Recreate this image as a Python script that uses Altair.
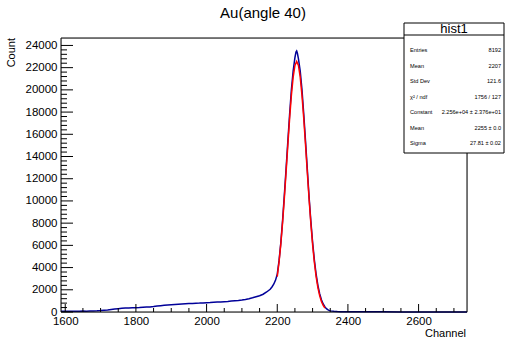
import altair as alt
import pandas as pd

# ---- data ----
hist_x = [1588, 1600, 1610, 1620, 1630, 1640, 1650, 1660, 1670, 1680, 1690, 1700, 1710, 1720,
          1730, 1740, 1750, 1760, 1770, 1780, 1790, 1800, 1810, 1820, 1830, 1840, 1850, 1860,
          1870, 1880, 1890, 1900, 1910, 1920, 1930, 1940, 1950, 1960, 1970, 1980, 1990, 2000,
          2010, 2020, 2030, 2040, 2050, 2060, 2070, 2080, 2090, 2100, 2110, 2120, 2130, 2140,
          2150, 2160, 2170, 2180, 2185, 2190, 2195, 2200, 2205, 2210, 2215, 2220, 2225, 2230,
          2235, 2240, 2245, 2250, 2253, 2255, 2257, 2260, 2265, 2270, 2275, 2280, 2285, 2290,
          2295, 2300, 2305, 2310, 2315, 2320, 2325, 2330, 2335, 2340, 2345, 2350, 2360, 2370,
          2380, 2400, 2450, 2500, 2550, 2600, 2650, 2700, 2737]
hist_y = [60, 70, 60, 70, 60, 70, 80, 70, 90, 100, 110, 130, 160, 190,
          230, 270, 300, 330, 350, 370, 380, 390, 400, 420, 440, 460, 490, 530,
          570, 610, 640, 660, 680, 700, 720, 740, 760, 770, 790, 800, 820, 840,
          850, 870, 890, 910, 930, 950, 980, 1010, 1040, 1080, 1130, 1200, 1280, 1370,
          1460, 1600, 1800, 2050, 2250, 2500, 2850, 3400, 4600, 6200, 8200, 10500, 12900, 15400,
          17800, 20000, 21700, 22900, 23400, 23500, 23300, 22800, 21700, 20000, 17800, 15400, 12900, 10400,
          8200, 6300, 4700, 3400, 2400, 1650, 1100, 720, 450, 280, 170, 100, 60, 40,
          30, 25, 20, 15, 10, 8, 5, 5, 3]

fit_x = [2200, 2205, 2210, 2215, 2220, 2225, 2230, 2235, 2240, 2245, 2250, 2255, 2260, 2265,
         2270, 2275, 2280, 2285, 2290, 2295, 2300, 2305, 2310, 2315, 2320, 2325, 2330, 2335]
fit_y = [3190, 4480, 6090, 8020, 10220, 12610, 15060, 17420, 19510, 21150, 22200, 22560, 22200, 21150,
         19510, 17420, 15060, 12610, 10220, 8020, 6090, 4480, 3190, 2200, 1470, 950, 594, 360]

x_labels = [1600, 1800, 2000, 2200, 2400, 2600]
x_minor = [1650, 1700, 1750, 1850, 1900, 1950, 2050, 2100, 2150, 2250, 2300, 2350,
           2450, 2500, 2550, 2650, 2700]
y_labels = [0, 2000, 4000, 6000, 8000, 10000, 12000, 14000, 16000, 18000, 20000, 22000, 24000]
y_minor = [v for v in range(400, 24400, 400) if v % 2000 != 0]

stat_names = ["Entries", "Mean", "Std Dev", "χ² / ndf", "Constant", "Mean", "Sigma"]
stat_values = ["8192", "2207", "121.6", "1756 / 127", "2.256e+04 ± 2.376e+01", "2255 ± 0.0", "27.81 ± 0.02"]

FONT = "Liberation Sans"
W, H = 406, 274

xs = alt.Scale(domain=[1588, 2737], nice=False, zero=False)
ys = alt.Scale(domain=[0, 24670], nice=False, zero=False)

hist_df = pd.DataFrame({"x": hist_x, "y": hist_y})
fit_df = pd.DataFrame({"x": fit_x, "y": fit_y})
one = pd.DataFrame({"a": [0]})

xaxis = alt.Axis(values=x_labels, ticks=False, domain=False, grid=False, labelPadding=3,
                 labelFontSize=11.5, labelFont=FONT, labelColor="black", title=None, format="d",
                 labelOverlap=False, labelFlush=False)
yaxis = alt.Axis(values=y_labels, ticks=False, domain=False, grid=False, labelPadding=4,
                 labelFontSize=11.5, labelFont=FONT, labelColor="black", title=None, format="d",
                 labelOverlap=False, labelFlush=False, labelBaseline="middle")

hist = alt.Chart(hist_df).mark_line(color="#000099", strokeWidth=1.5).encode(
    x=alt.X("x:Q", scale=xs, axis=xaxis),
    y=alt.Y("y:Q", scale=ys, axis=yaxis),
)
fit = alt.Chart(fit_df).mark_line(color="#ff0000", strokeWidth=1.5).encode(
    x=alt.X("x:Q", scale=xs, axis=xaxis),
    y=alt.Y("y:Q", scale=ys, axis=yaxis),
)

frame = alt.Chart(one).mark_rect(fillOpacity=0, stroke="black", strokeWidth=1).encode(
    x=alt.value(0), x2=alt.value(W), y=alt.value(0), y2=alt.value(H))

xmaj = alt.Chart(pd.DataFrame({"x": x_labels})).mark_rule(color="black", strokeWidth=1).encode(
    x=alt.X("x:Q", scale=xs, axis=xaxis), y=alt.value(H), y2=alt.value(H - 8))
xmin = alt.Chart(pd.DataFrame({"x": x_minor})).mark_rule(color="black", strokeWidth=1).encode(
    x=alt.X("x:Q", scale=xs, axis=xaxis), y=alt.value(H), y2=alt.value(H - 4))
ymaj = alt.Chart(pd.DataFrame({"y": y_labels})).mark_rule(color="black", strokeWidth=1).encode(
    y=alt.Y("y:Q", scale=ys, axis=yaxis), x=alt.value(0), x2=alt.value(12))
ymin = alt.Chart(pd.DataFrame({"y": y_minor})).mark_rule(color="black", strokeWidth=1).encode(
    y=alt.Y("y:Q", scale=ys, axis=yaxis), x=alt.value(0), x2=alt.value(6))

title = alt.Chart(pd.DataFrame({"s": ["Au(angle 40)"]})).mark_text(
    font=FONT, fontSize=15, align="center", baseline="alphabetic", color="black").encode(
    x=alt.value(202), y=alt.value(-20), text="s:N")
ytitle = alt.Chart(pd.DataFrame({"s": ["Count"]})).mark_text(
    font=FONT, fontSize=11, align="right", baseline="middle", angle=270, color="black").encode(
    x=alt.value(-49), y=alt.value(0), text="s:N")
xtitle = alt.Chart(pd.DataFrame({"s": ["Channel"]})).mark_text(
    font=FONT, fontSize=11, align="right", baseline="alphabetic", color="black").encode(
    x=alt.value(W - 1), y=alt.value(299), text="s:N")

# stats box
box = alt.Chart(one).mark_rect(fill="white", stroke="black", strokeWidth=1).encode(
    x=alt.value(343), x2=alt.value(443), y=alt.value(-15), y2=alt.value(115))
sep = alt.Chart(one).mark_rule(color="black", strokeWidth=1).encode(
    x=alt.value(343), x2=alt.value(443), y=alt.value(-3))
head = alt.Chart(pd.DataFrame({"s": ["hist1"]})).mark_text(
    font=FONT, fontSize=13, align="center", baseline="alphabetic", color="black").encode(
    x=alt.value(393), y=alt.value(-5), text="s:N")

row_y = [12, 27.5, 43, 58.5, 74, 89.5, 105]
stats_df = pd.DataFrame({"n": stat_names, "v": stat_values})
stat_layers = []
for i in range(len(stat_names)):
    d = stats_df.iloc[[i]]
    stat_layers.append(alt.Chart(d).mark_text(font=FONT, fontSize=5.6, align="left", baseline="middle",
                                              color="black").encode(
        x=alt.value(349), y=alt.value(row_y[i]), text="n:N"))
    stat_layers.append(alt.Chart(d).mark_text(font=FONT, fontSize=5.6, align="right", baseline="middle",
                                              color="black").encode(
        x=alt.value(440), y=alt.value(row_y[i]), text="v:N"))

chart = alt.layer(
    hist, fit, frame, xmaj, xmin, ymaj, ymin, title, ytitle, xtitle, box, sep, head, *stat_layers
).properties(
    width=W, height=H,
    autosize=alt.AutoSizeParams(type="none"),
    padding={"left": 61, "top": 38, "right": 38, "bottom": 33},
).configure_view(strokeWidth=0).configure(background="white")

chart.save("out.html", embed_options={"renderer": "svg", "actions": False})
